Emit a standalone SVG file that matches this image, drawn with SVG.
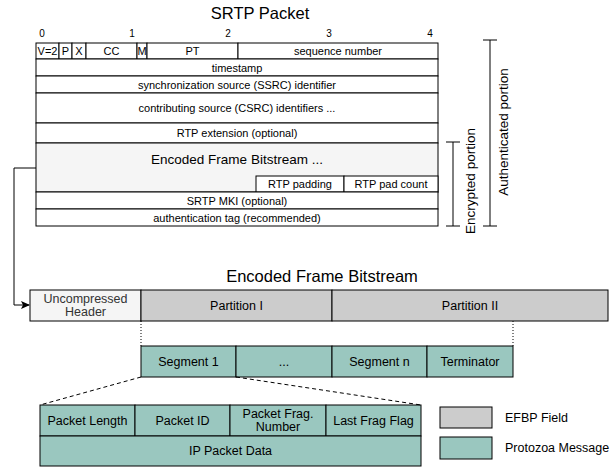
<svg xmlns="http://www.w3.org/2000/svg" width="616" height="467" viewBox="0 0 616 467">
<style>
text{font-family:"Liberation Sans",Arial,sans-serif;fill:#000;text-anchor:middle}
.n{font-size:10px}
.s{font-size:11px}
.m{font-size:12.5px}
.b{font-size:13.5px}
.t{font-size:16.5px}
.r{fill:#fff;stroke:#000;stroke-width:1}
.lg{fill:#f5f5f5;stroke:#000;stroke-width:1}
.g{fill:#ccc;stroke:#000;stroke-width:1}
.teal{fill:#9ac7bf;stroke:#000;stroke-width:1}
.ln{stroke:#000;stroke-width:1;fill:none}
</style>
<defs>
<marker id="ah" markerWidth="10" markerHeight="10" refX="8" refY="5" orient="auto" markerUnits="userSpaceOnUse">
<path d="M0,1 L9,5 L0,9 L2,5 Z" fill="#000"/>
</marker>
</defs>
<text class="t" x="260" y="19">SRTP Packet</text>
<g id="bitnums">
<text class="n" x="42" y="37">0</text>
<text class="n" x="132" y="37">1</text>
<text class="n" x="228" y="37">2</text>
<text class="n" x="329" y="37">3</text>
<text class="n" x="430" y="37">4</text>
</g>
<g id="srtp-header">
<rect class="r" x="36" y="43" width="23" height="16"/><text class="s" x="47.5" y="55">V=2</text>
<rect class="r" x="59" y="43" width="13" height="16"/><text class="s" x="65.5" y="55">P</text>
<rect class="r" x="72" y="43" width="14" height="16"/><text class="s" x="79" y="55">X</text>
<rect class="r" x="86" y="43" width="51" height="16"/><text class="s" x="111.5" y="55">CC</text>
<rect class="r" x="137" y="43" width="10" height="16"/><text class="s" x="142" y="55">M</text>
<rect class="r" x="147" y="43" width="91" height="16"/><text class="s" x="192.5" y="55">PT</text>
<rect class="r" x="238" y="43" width="200" height="16"/><text class="s" x="338" y="55">sequence number</text>
</g>
<g id="timestamp"><rect class="r" x="36" y="59" width="402" height="17"/><text class="s" x="237" y="71.5">timestamp</text></g>
<g id="ssrc"><rect class="r" x="36" y="76" width="402" height="17"/><text class="s" x="237" y="88.5">synchronization source (SSRC) identifier</text></g>
<g id="csrc"><rect class="r" x="36" y="93" width="402" height="30"/><text class="s" x="237" y="112">contributing source (CSRC) identifiers ...</text></g>
<g id="rtpext"><rect class="r" x="36" y="123" width="402" height="20"/><text class="s" x="237" y="137">RTP extension (optional)</text></g>
<g id="efb"><rect class="lg" x="36" y="143" width="402" height="49"/><text class="b" x="237" y="164">Encoded Frame Bitstream ...</text></g>
<g id="rtppad"><rect class="r" x="256" y="176" width="88" height="16"/><text class="s" x="300" y="188">RTP padding</text></g>
<g id="rtppadcount"><rect class="r" x="344" y="176" width="94" height="16"/><text class="s" x="391" y="188">RTP pad count</text></g>
<g id="mki"><rect class="r" x="36" y="192" width="402" height="17"/><text class="s" x="237" y="204.5">SRTP MKI (optional)</text></g>
<g id="authtag"><rect class="r" x="36" y="209" width="402" height="17"/><text class="s" x="237" y="221.5">authentication tag (recommended)</text></g>
<g id="auth-bracket">
<path class="ln" d="M490,40 V226 M483,40 H497 M483,226 H497"/>
<text class="b" transform="translate(508,132) rotate(-90)">Authenticated portion</text>
</g>
<g id="enc-bracket">
<path class="ln" d="M453,142 V226 M446,142 H460 M446,226 H460"/>
<text class="b" transform="translate(475,181) rotate(-90)">Encrypted portion</text>
</g>
<text class="t" x="322" y="282">Encoded Frame Bitstream</text>
<g id="uncomp"><rect class="lg" x="30" y="290" width="111" height="31"/><text class="m" x="85.5" y="303" style="fill:#333">Uncompressed</text><text class="m" x="85.5" y="316" style="fill:#333">Header</text></g>
<g id="part1"><rect class="g" x="141" y="290" width="191" height="31"/><text class="m" x="236.5" y="310">Partition I</text></g>
<g id="part2"><rect class="g" x="332" y="290" width="276" height="31"/><text class="m" x="470" y="310">Partition II</text></g>
<g id="seg1"><rect class="teal" x="141" y="346" width="95" height="31"/><text class="m" x="188.5" y="366">Segment 1</text></g>
<g id="segdots"><rect class="teal" x="236" y="346" width="96" height="31"/><text class="m" x="284" y="366">...</text></g>
<g id="segn"><rect class="teal" x="332" y="346" width="95" height="31"/><text class="m" x="379.5" y="366">Segment n</text></g>
<g id="term"><rect class="teal" x="427" y="346" width="86" height="31"/><text class="m" x="470" y="366">Terminator</text></g>
<g id="msg">
<rect class="teal" x="40" y="405" width="95" height="31"/><text class="m" x="87.5" y="425">Packet Length</text>
<rect class="teal" x="135" y="405" width="95" height="31"/><text class="m" x="182.5" y="425">Packet ID</text>
<rect class="teal" x="230" y="405" width="96" height="31"/><text class="m" x="278" y="418">Packet Frag.</text><text class="m" x="278" y="431">Number</text>
<rect class="teal" x="326" y="405" width="95" height="31"/><text class="m" x="373.5" y="425">Last Frag Flag</text>
<rect class="teal" x="40" y="436" width="381" height="30"/><text class="m" x="230.5" y="455">IP Packet Data</text>
</g>
<g id="legend">
<rect class="g" x="440" y="407" width="52" height="21"/><text class="m" x="505" y="422" style="text-anchor:start">EFBP Field</text>
<rect class="teal" x="440" y="437" width="52" height="22"/><text class="m" x="505" y="452" style="text-anchor:start">Protozoa Message</text>
</g>
<g id="connectors">
<path class="ln" d="M36,168 H14 V305 H29" stroke-width="1.5" marker-end="url(#ah)"/>
<path class="ln" d="M141,321 V346 M513,321 V346" stroke-dasharray="1,2" stroke="#555"/>
<path class="ln" d="M141,377 L40,405 M236,377 L421,405" stroke-dasharray="4,3"/>
</g>
</svg>
